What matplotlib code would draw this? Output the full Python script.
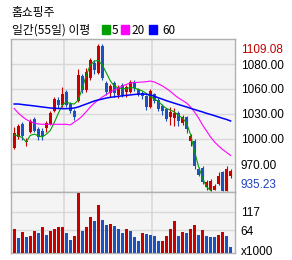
import matplotlib
matplotlib.use("Agg")
import matplotlib.pyplot as plt
import matplotlib.transforms as mtransforms
from matplotlib.patches import Rectangle
import numpy as np

# dados do grafico (55 dias)
title = "홈쇼핑주"
subtitle = "일간(55일) 이평"
ma_names = ["5", "20", "60"]

opens = [985.5, 998.5, 1014.5, 992.6, 1004.4, 1020.4, 1008.6, 1006.2, 1009.7, 1014.5,
         1029.8, 1042.3, 1036.4, 1052.3, 1038.1, 1029.8, 1041.1, 1071.2, 1054.7, 1068.9,
         1086.6, 1074.8, 1106.7, 1063.0, 1051.1, 1063.0, 1048.8, 1060.6, 1052.3, 1052.3,
         1064.1, 1055.3, 1051.7, 1047.0, 1034.0, 1049.4, 1042.9, 1035.8, 1031.6, 1022.7,
         1021.0, 1027.5, 1015.1, 1022.7, 994.4, 994.4, 961.2, 962.4, 939.4, 935.8,
         936.4, 942.9, 957.7, 935.5, 953.0]
highs = [1010.9, 1014.5, 1016.8, 997.3, 1020.4, 1022.7, 1010.9, 1009.7, 1018.0, 1029.8,
         1046.4, 1046.4, 1058.2, 1054.7, 1040.5, 1032.2, 1079.5, 1073.6, 1080.7, 1092.5,
         1090.2, 1109.08, 1108.5, 1065.3, 1061.8, 1065.3, 1060.6, 1063.0, 1060.6, 1066.5,
         1066.5, 1057.0, 1053.5, 1048.8, 1055.9, 1051.1, 1045.2, 1038.1, 1033.4, 1034.6,
         1033.4, 1029.8, 1025.1, 1024.5, 1002.1, 996.7, 963.0, 964.8, 948.2, 948.8,
         942.9, 957.1, 958.9, 964.8, 961.2]
lows = [984.9, 996.7, 995.5, 988.5, 1003.8, 1005.0, 995.5, 995.5, 1004.4, 1013.3,
        1028.7, 1033.4, 1034.6, 1034.6, 1027.5, 1019.2, 1040.5, 1051.1, 1052.3, 1066.5,
        1073.6, 1073.6, 1066.5, 1048.8, 1046.4, 1046.4, 1045.2, 1046.4, 1046.4, 1051.1,
        1053.5, 1047.6, 1044.0, 1031.0, 1033.4, 1039.3, 1029.8, 1025.1, 1018.0, 1013.3,
        1012.1, 1012.1, 1012.7, 1003.8, 988.5, 960.7, 953.0, 942.9, 936.4, 935.5,
        936.4, 941.7, 935.23, 935.3, 950.6]
closes = [1003.8, 1012.1, 1000.3, 994.4, 1018.0, 1006.2, 999.1, 1000.3, 1015.1, 1027.5,
          1044.6, 1037.5, 1050.0, 1036.9, 1029.8, 1022.2, 1072.4, 1054.7, 1076.0, 1090.2,
          1078.3, 1106.7, 1068.9, 1052.3, 1059.4, 1051.1, 1058.2, 1048.8, 1058.2, 1064.7,
          1057.0, 1050.5, 1047.6, 1034.6, 1053.5, 1041.7, 1032.2, 1029.8, 1020.4, 1028.7,
          1027.5, 1018.0, 1023.3, 1008.0, 1000.3, 964.8, 954.7, 945.3, 945.9, 947.1,
          941.1, 953.0, 935.23, 961.2, 958.9]

nan = float("nan")
ma5 = [1001.5, 1000.3, 998.5, 993.2, 1000.9, 1002.4, 1000.6, 999.1, 1002.3, 1006.8,
       1016.2, 1026.9, 1036.9, 1040.5, 1038.7, 1038.1, 1042.9, 1057.0, 1072.4, 1084.2,
       1088.9, 1089.6, 1084.2, 1074.8, 1065.3, 1059.4, 1057.0, 1056.4, 1056.4, 1057.6,
       1057.0, 1055.3, 1053.5, 1050.5, 1047.0, 1044.0, 1041.1, 1036.4, 1032.8, 1031.0,
       1028.7, 1024.5, 1021.6, 1015.6, 1002.1, 981.9, 964.2, 950.6, 940.0, 935.8,
       nan, nan, nan, nan, nan]
ma20 = [1032.8, 1027.5, 1023.3, 1019.8, 1017.4, 1015.6, 1014.5, 1014.1, 1014.1, 1014.1,
        1014.1, 1014.1, 1014.1, 1014.1, 1013.3, 1016.8, 1019.8, 1023.9, 1029.2, 1034.6,
        1039.3, 1042.9, 1046.4, 1049.4, 1052.3, 1054.7, 1057.0, 1059.4, 1061.2, 1063.0,
        1063.5, 1063.8, 1064.1, 1064.5, 1065.3, 1064.1, 1061.8, 1059.4, 1056.4, 1052.9,
        1048.8, 1045.2, 1042.3, 1039.3, 1034.6, 1028.7, 1021.6, 1013.3, 1006.2, 999.1,
        993.2, 988.5, 984.3, 980.8, 977.2]
ma60 = [1038.1, 1038.1, 1037.5, 1036.9, 1036.4, 1035.8, 1035.2, 1034.6, 1034.0, 1033.4,
        1033.0, 1032.8, 1032.6, 1032.6, 1032.8, 1033.4, 1034.6, 1036.4, 1038.1, 1039.9,
        1041.7, 1042.9, 1044.0, 1045.2, 1046.0, 1046.6, 1047.2, 1047.8, 1048.4, 1048.8,
        1049.4, 1049.7, 1050.0, 1049.6, 1048.8, 1047.2, 1045.4, 1043.8, 1042.0, 1040.5,
        1039.0, 1037.5, 1036.1, 1034.6, 1033.0, 1031.6, 1030.1, 1028.7, 1027.1, 1025.7,
        1024.3, 1022.7, 1021.2, 1019.8, 1018.0]

# volume em milhares
volumes = [69, 41, 58, 44, 49, 63, 55, 72, 52, 63, 69, 72, 73, 55, 38, 49, 169, 63, 74, 102,
           91, 136, 94, 80, 83, 77, 69, 55, 69, 63, 44, 35, 55, 54, 52, 49, 33, 34, 49, 69,
           91, 47, 58, 55, 69, 80, 52, 66, 47, 46, 44, 52, 58, 47, 16]

price_max = 1109.08
price_min = 935.23
grid_vals = [1085.4, 1055.9, 1026.3, 996.7, 967.1]
grid_labels = ["1080.00", "1060.00", "1030.00", "1000.00", "970.00"]
vol_ticks = [117, 64]
month_breaks = [12.5, 34.5]

# cores
RED = "#c80000"
BLUE = "#1e50be"
C_MA5 = "#00a000"
C_MA20 = "#ff00ff"
C_MA60 = "#0000ff"
BG = "#f4f4f4"
GRID = "#d9d9d9"
EDGE = "#b0b0b0"
KR = ["Noto Sans CJK KR", "DejaVu Sans"]
NUM = "Liberation Sans"

W, H = 292, 260
fig = plt.figure(figsize=(W / 100, H / 100), dpi=100)


def fx(px):
    return px / W


def fy(py):
    return 1 - py / H


ax = fig.add_axes([fx(11), fy(192), fx(235) - fx(11), fy(39) - fy(192)])
axv = fig.add_axes([fx(11), fy(253), fx(235) - fx(11), fy(192) - fy(253)])

xs = np.arange(len(opens))
o = np.array(opens)
c = np.array(closes)
cols = np.where(c >= o, RED, BLUE)

# candles
ax.vlines(xs, lows, highs, colors=cols, lw=0.8, zorder=3)
ax.bar(xs, np.maximum(np.abs(c - o), 0.9), bottom=np.minimum(o, c), width=0.75,
       color=cols, zorder=3)

# medias moveis
ax.plot(xs, ma5, color=C_MA5, lw=0.8, zorder=4)
ax.plot(xs, ma20, color=C_MA20, lw=0.8, zorder=4)
ax.plot(xs, ma60, color=C_MA60, lw=1.1, zorder=4)

ax.set_xlim(-0.8, 55.1)
ax.set_ylim(934.0, 1115.0)
ax.set_facecolor(BG)
ax.set_xticks([])
ax.set_yticks(grid_vals, grid_labels)
ax.yaxis.tick_right()
ax.tick_params(axis="y", length=0, pad=4, labelsize=8.5)
for lab in ax.get_yticklabels():
    lab.set_fontfamily(NUM)
ax.grid(axis="y", color=GRID, lw=1.0, zorder=0)
for xb in month_breaks:
    ax.axvline(xb, color=GRID, lw=1.2, zorder=0)

trans = mtransforms.blended_transform_factory(ax.transAxes, ax.transData)
ax.text(1 + 5.6 / 224, price_max, "%.2f" % price_max, transform=trans, color="#c00000",
        fontsize=8.5, family=NUM, va="top", ha="left")
ax.text(1 + 5.6 / 224, price_min, "%.2f" % price_min, transform=trans, color="#2040c0",
        fontsize=8.5, family=NUM, va="bottom", ha="left")

# volume: vermelho quando aumenta em relacao ao dia anterior
vol = np.array(volumes)
vcols = [RED] + [RED if vol[i] >= vol[i - 1] else BLUE for i in range(1, len(vol))]
axv.bar(xs, vol, width=0.8, color=vcols, zorder=3)
axv.set_xlim(-0.8, 55.1)
axv.set_ylim(0, 172)
axv.set_facecolor(BG)
axv.set_xticks([])
axv.set_yticks(vol_ticks, [str(v) for v in vol_ticks])
axv.yaxis.tick_right()
axv.tick_params(axis="y", length=0, pad=4, labelsize=8.5)
for lab in axv.get_yticklabels():
    lab.set_fontfamily(NUM)
axv.grid(axis="y", color=GRID, lw=1.0, zorder=0)
for xb in month_breaks:
    axv.axvline(xb, color=GRID, lw=1.2, zorder=0)
transv = mtransforms.blended_transform_factory(axv.transAxes, axv.transData)
axv.text(1 + 5.6 / 224, 2, "x1000", transform=transv, fontsize=8.5, family=NUM,
         va="center", ha="left")

for a in (ax, axv):
    for s in a.spines.values():
        s.set_color(EDGE)
        s.set_linewidth(1.0)

# cabecalho
fig.text(fx(11.5), fy(12.5), title, fontsize=8.5, family=KR, va="center", ha="left")
fig.text(fx(11.5), fy(30), subtitle, fontsize=8.5, family=KR, va="center", ha="left")
legend_x = [(102, 111.5), (121, 131), (149, 162.5)]
for (sx, tx), name, col in zip(legend_x, ma_names, [C_MA5, C_MA20, C_MA60]):
    fig.patches.append(Rectangle((fx(sx), fy(34)), 8 / W, 9 / H,
                                 transform=fig.transFigure, color=col))
    fig.text(fx(tx), fy(30), name, fontsize=8.5, family=KR, va="center", ha="left")

fig.savefig("out.png", dpi=100, facecolor="white")
